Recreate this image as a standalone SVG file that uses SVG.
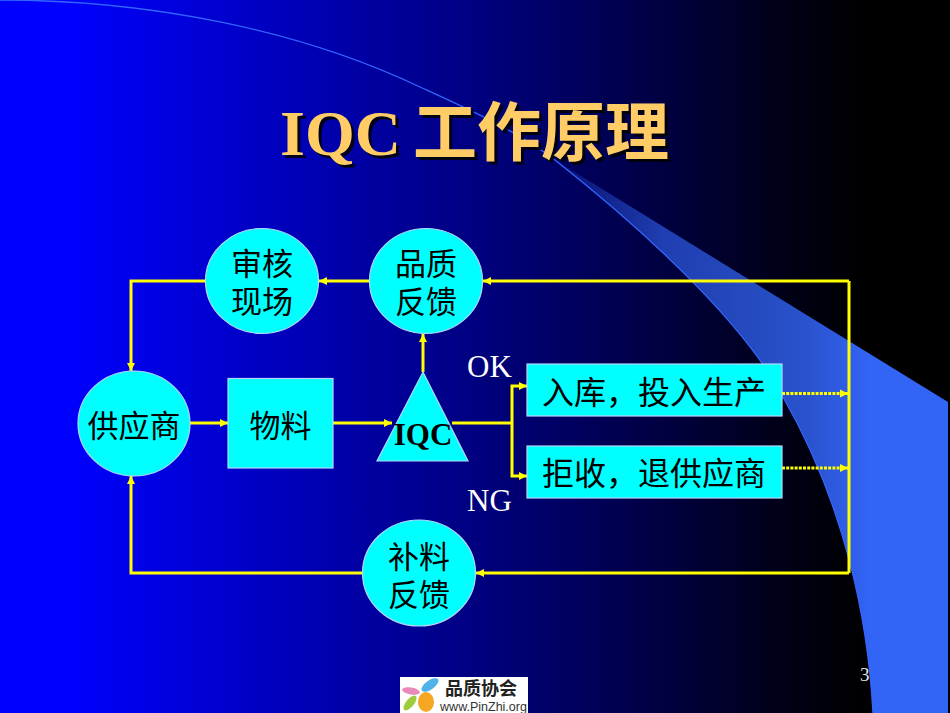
<svg xmlns="http://www.w3.org/2000/svg" width="950" height="713" viewBox="0 0 950 713">
<style>
.n{fill:#00ffff;stroke:#b4d8ff;stroke-width:1.2}
.c{fill:none;stroke:#ffff00;stroke-width:3}
.d{stroke-width:3;stroke-dasharray:3 1.2}
.t{font-family:"Liberation Serif","Noto Sans CJK SC",serif;font-size:31px;fill:#000;text-anchor:middle}
.r{font-size:32px}
.l{font-family:"Liberation Serif",serif;font-size:31px;fill:#fff}
.h{font-family:"Liberation Serif","Noto Sans CJK SC",serif;font-size:64px;font-weight:bold;fill:#ffcc66;filter:drop-shadow(3px 3px 0 rgba(0,0,0,0.85))}
</style>
<defs>
<linearGradient id="bg" gradientUnits="userSpaceOnUse" x1="0" y1="0" x2="950" y2="0">
<stop offset="0" stop-color="#0000ff"/><stop offset="0.07" stop-color="#0000ff"/><stop offset="0.5" stop-color="#000080"/><stop offset="0.85" stop-color="#000010"/><stop offset="0.91" stop-color="#000"/>
</linearGradient>
<linearGradient id="sw" gradientUnits="userSpaceOnUse" x1="550" y1="0" x2="870" y2="0">
<stop offset="0" stop-color="#3264f6" stop-opacity="0.1"/><stop offset="0.35" stop-color="#3264f6" stop-opacity="0.62"/><stop offset="0.8" stop-color="#3264f6" stop-opacity="0.82"/><stop offset="1" stop-color="#3264f6"/>
</linearGradient>
<marker id="a" markerUnits="userSpaceOnUse" markerWidth="10" markerHeight="10" refX="9" refY="5" orient="auto"><path d="M1 1 L9 5 L1 9 Z" fill="#ffff00"/></marker>
</defs>
<rect width="950" height="713" fill="url(#bg)"/>
<path d="M555 160 L948 402 L948 713 L873 713 C868 620 845 505 783 397 C745 325 650 235 555 160 Z" fill="url(#sw)"/>
<path d="M0 0 C150 0 300 30 420 87 C470 110 515 130 555 160 C650 235 745 325 783 397 C845 505 868 620 873 713" fill="none" stroke="#3366ff" stroke-width="1.3"/>

<g id="title">
<text class="h" y="154.500"><tspan x="280">IQC</tspan><tspan x="413">工作原理</tspan></text>
</g>

<g id="connectors">
<path class="c" d="M849 281 L849 573"/>
<path class="c" marker-end="url(#a)" d="M849 281 L483 281"/>
<path class="c" marker-end="url(#a)" d="M849 573 L476 573"/>
<path class="c" marker-end="url(#a)" d="M369 281 L319 281"/>
<path class="c" marker-end="url(#a)" d="M205 281 L131 281 L131 371"/>
<path class="c" marker-end="url(#a)" d="M190 423 L228 423"/>
<path class="c" marker-end="url(#a)" d="M333 423 L392 423"/>
<path class="c" marker-end="url(#a)" d="M423 372 L423 334"/>
<path class="c" d="M452 423 L512 423"/>
<path class="c" marker-end="url(#a)" d="M512 423 L512 386 L527 386"/>
<path class="c" marker-end="url(#a)" d="M512 423 L512 476 L527 476"/>
<path class="c d" marker-end="url(#a)" d="M782 393.500 L848 393.500"/>
<path class="c d" marker-end="url(#a)" d="M782 468 L848 468"/>
<path class="c" marker-end="url(#a)" d="M362 573 L131 573 L131 476"/>
</g>

<g id="n-audit"><ellipse class="n" cx="262" cy="281" rx="56.500" ry="52.500"/><text class="t" x="262" y="275">审核</text><text class="t" x="262" y="313">现场</text></g>
<g id="n-feedback"><ellipse class="n" cx="426" cy="281" rx="56.500" ry="52.500"/><text class="t" x="426" y="275">品质</text><text class="t" x="426" y="313">反馈</text></g>
<g id="n-supplier"><ellipse class="n" cx="134" cy="423.500" rx="56" ry="52.500"/><text class="t" x="134" y="437">供应商</text></g>
<g id="n-material"><rect class="n" x="228" y="378.500" width="105" height="89.500"/><text class="t" x="280.500" y="437">物料</text></g>
<g id="n-iqc"><path class="n" d="M423 372 L468 461 L377 461 Z"/><text class="t" x="423" y="445" font-weight="bold">IQC</text></g>
<g id="n-stock"><rect class="n" x="527" y="364" width="255" height="52"/><text class="t r" x="654" y="404">入库，投入生产</text></g>
<g id="n-reject"><rect class="n" x="527" y="446" width="255" height="52"/><text class="t r" x="654" y="485">拒收，退供应商</text></g>
<g id="n-replenish"><ellipse class="n" cx="419" cy="573" rx="56.500" ry="53"/><text class="t" x="419" y="568">补料</text><text class="t" x="419" y="606">反馈</text></g>

<text class="l" x="467" y="377">OK</text>
<text class="l" x="467" y="511">NG</text>
<text x="860" y="681" font-family="Liberation Serif,serif" font-size="19" fill="#e6e6e6">3</text>

<g id="logo">
<rect x="400" y="677" width="128" height="36" fill="#fff"/>
<ellipse cx="430" cy="685" rx="10" ry="4.500" fill="#4fb3e8" transform="rotate(-35 430 685)"/>
<ellipse cx="411" cy="691" rx="9" ry="3.500" fill="#e889b8" transform="rotate(10 411 691)"/>
<ellipse cx="410" cy="703" rx="9" ry="4" fill="#9ccb3c" transform="rotate(-50 410 703)"/>
<ellipse cx="426" cy="702" rx="8" ry="10" fill="#f5a623"/>
<text x="481" y="695" font-family="Noto Sans CJK SC,sans-serif" font-size="18" font-weight="bold" fill="#222" text-anchor="middle">品质协会</text>
<text x="483.500" y="711" font-family="Liberation Sans,sans-serif" font-size="12.500" fill="#333" text-anchor="middle">www.PinZhi.org</text>
</g>
</svg>
